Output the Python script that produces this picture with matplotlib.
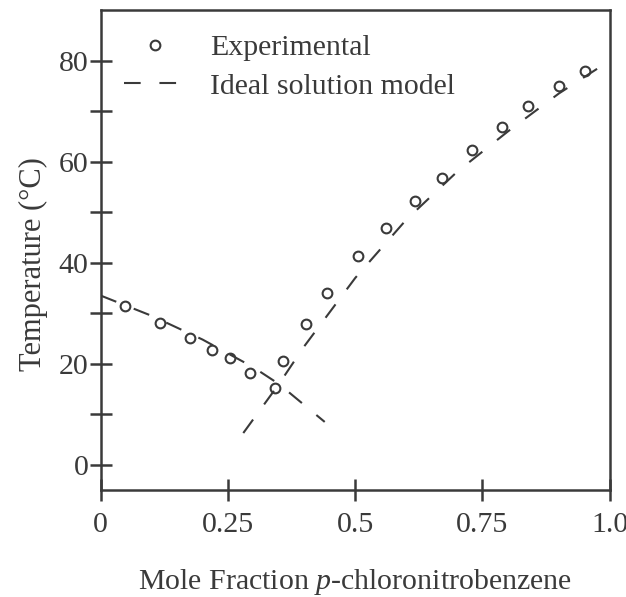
import matplotlib
matplotlib.use("Agg")
import matplotlib.pyplot as plt
from matplotlib.ticker import FixedLocator

plt.rcParams['font.family'] = ['Liberation Serif', 'DejaVu Serif']
plt.rcParams['mathtext.fontset'] = 'custom'
plt.rcParams['mathtext.it'] = 'Liberation Serif:italic'

# Experimental data
exp_x = [0.047, 0.116, 0.175, 0.218, 0.254, 0.293, 0.343,
         0.358, 0.404, 0.445, 0.506, 0.561, 0.618, 0.671, 0.730, 0.789, 0.840, 0.900, 0.951]
exp_y = [31.5, 28.1, 25.1, 22.8, 21.2, 18.2, 15.2,
         20.6, 27.9, 34.1, 41.4, 46.9, 52.3, 56.8, 62.4, 66.9, 71.1, 74.9, 78.0]

# Ideal solution model (two branches)
ideal_left_x = [0.0, 0.1, 0.2, 0.3, 0.35, 0.44]
ideal_left_y = [33.5, 29.5, 24.8, 19.3, 16.0, 8.5]
ideal_right_x = [0.28, 0.35, 0.40, 0.50, 0.60, 0.70, 0.80, 0.90, 1.00]
ideal_right_y = [6.3, 16.0, 23.5, 37.0, 48.5, 58.0, 66.0, 73.5, 80.0]

xticks = [0, 0.25, 0.5, 0.75, 1.0]
xtick_labels = ["0", "0.25", "0.5", "0.75", "1.0"]
yticks = [0, 20, 40, 60, 80]
yminor = [10, 30, 50, 70]

ink = '#3a3a3a'
fs = 21.5

fig = plt.figure(figsize=(6.26, 5.97), dpi=100)
ax = fig.add_axes([0.161, 0.179, 0.813, 0.804])

dash = (0, (8, 9))
ax.plot(ideal_left_x, ideal_left_y, linestyle=dash, color=ink, lw=1.5,
        label='Ideal solution model')
ax.plot(ideal_right_x, ideal_right_y, linestyle=dash, color=ink, lw=1.5)
ax.plot(exp_x, exp_y, linestyle='none', marker='o', ms=7, mfc='none', mec=ink, mew=1.5,
        label='Experimental')

ax.set_xlim(0, 1.0)
ax.set_ylim(-5, 90)
ax.set_xticks(xticks)
ax.set_xticklabels(xtick_labels)
ax.set_yticks(yticks)
ax.yaxis.set_minor_locator(FixedLocator(yminor))

ax.tick_params(axis='both', which='both', direction='inout', length=16, width=1.8,
               color=ink, labelsize=fs, labelcolor=ink)
ax.tick_params(axis='x', pad=7.5)
ax.tick_params(axis='y', pad=1)
for s in ax.spines.values():
    s.set_linewidth(1.8)
    s.set_color(ink)

ax.set_xlabel('Mole Fraction $\\mathit{p}$-chloronitrobenzene', fontsize=fs, color=ink, labelpad=21)
ax.set_ylabel('Temperature (°C)', fontsize=fs + 0.5, color=ink)
ax.yaxis.set_label_coords(-0.103, 0.47)

handles, labels = ax.get_legend_handles_labels()
leg = ax.legend([handles[1], handles[0]], [labels[1], labels[0]], loc='upper left',
                bbox_to_anchor=(0.045, 0.95), frameon=False, fontsize=fs, handlelength=2.1,
                handletextpad=0.8, labelspacing=0.4, borderpad=0, borderaxespad=0,
                labelcolor=ink)

fig.savefig('out.png', dpi=100)
